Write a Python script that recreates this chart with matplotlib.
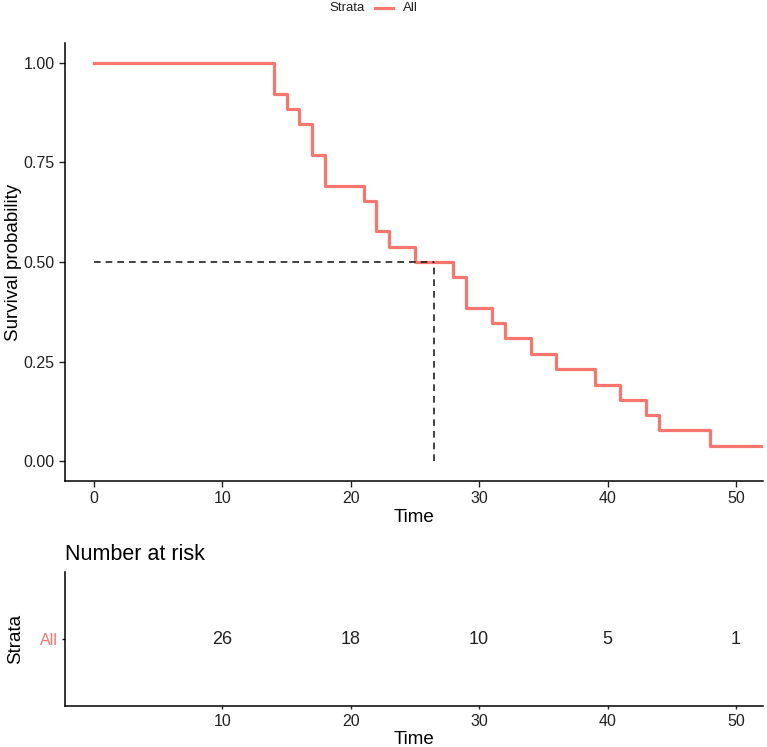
import matplotlib.pyplot as plt
from matplotlib.lines import Line2D

plt.rcParams["font.family"] = ["Liberation Sans", "DejaVu Sans"]

# Kaplan-Meier estimate
times = [0, 14, 15, 16, 17, 18, 21, 22, 23, 25, 28, 29, 31, 32, 34, 36, 39, 41, 43, 44, 48, 52.5]
surv = [1.0, 0.923, 0.885, 0.846, 0.769, 0.692, 0.654, 0.577, 0.538, 0.500, 0.462, 0.385,
        0.346, 0.308, 0.269, 0.231, 0.192, 0.154, 0.115, 0.077, 0.038, 0.038]
median_time = 26.5

risk_times = [10, 20, 30, 40, 50]
risk_counts = [26, 18, 10, 5, 1]

color = "#F8766D"
ink = "#222222"
W, H = 767, 747
fig = plt.figure(figsize=(W / 100, H / 100), dpi=100)

# survival curve
ax = fig.add_axes([65 / W, 1 - 481 / H, 698 / W, 438 / H])
ax.step(times, surv, where="post", color=color, lw=2.3)
ax.plot([0, median_time], [0.5, 0.5], color=ink, lw=1.2, dashes=(4, 3))
ax.plot([median_time, median_time], [0, 0.5], color=ink, lw=1.2, dashes=(4, 3))
ax.set_xlim(-2.25, 52.1)
ax.set_ylim(-0.05, 1.05)
ax.set_yticks([0, 0.25, 0.5, 0.75, 1.0])
ax.set_yticklabels(["0.00", "0.25", "0.50", "0.75", "1.00"])
ax.set_xticks([0, 10, 20, 30, 40, 50])
ax.set_xlabel("Time", fontsize=13.5, labelpad=2)
ax.set_ylabel("Survival probability", fontsize=13.5, labelpad=1)
for s in ["top", "right"]:
    ax.spines[s].set_visible(False)
for s in ["left", "bottom"]:
    ax.spines[s].set_linewidth(1.1)
ax.tick_params(labelsize=11.5, length=4, width=1.0, colors=ink, labelcolor=ink)

# legend on one row above the plot
ly = 1 - 8 / H
fig.text(365 / W, ly, "Strata", ha="right", va="center", fontsize=9.5, color=ink)
fig.add_artist(Line2D([375 / W, 393 / W], [ly, ly], color=color, lw=2.3,
                      transform=fig.transFigure))
fig.text(403 / W, ly, "All", ha="left", va="center", fontsize=9.5, color=ink)

# number at risk table
ax2 = fig.add_axes([65 / W, 1 - 706 / H, 698 / W, 134 / H])
for t, n in zip(risk_times, risk_counts):
    ax2.text(t, 0, str(n), ha="center", va="center", fontsize=13, color=ink)
ax2.set_xlim(-2.25, 52.1)
ax2.set_ylim(-1, 1)
ax2.set_xticks(risk_times)
ax2.set_yticks([0])
ax2.set_yticklabels(["All"])
ax2.set_xlabel("Time", fontsize=13.5, labelpad=2)
ax2.set_ylabel("Strata", fontsize=13.5, labelpad=11)
ax2.set_title("Number at risk", loc="left", fontsize=15.5, pad=9)
for s in ["top", "right"]:
    ax2.spines[s].set_visible(False)
for s in ["left", "bottom"]:
    ax2.spines[s].set_linewidth(1.1)
ax2.tick_params(labelsize=11.5, length=2, width=1.0, colors=ink)
ax2.get_yticklabels()[0].set_color(color)

fig.savefig("out.png", dpi=100)
